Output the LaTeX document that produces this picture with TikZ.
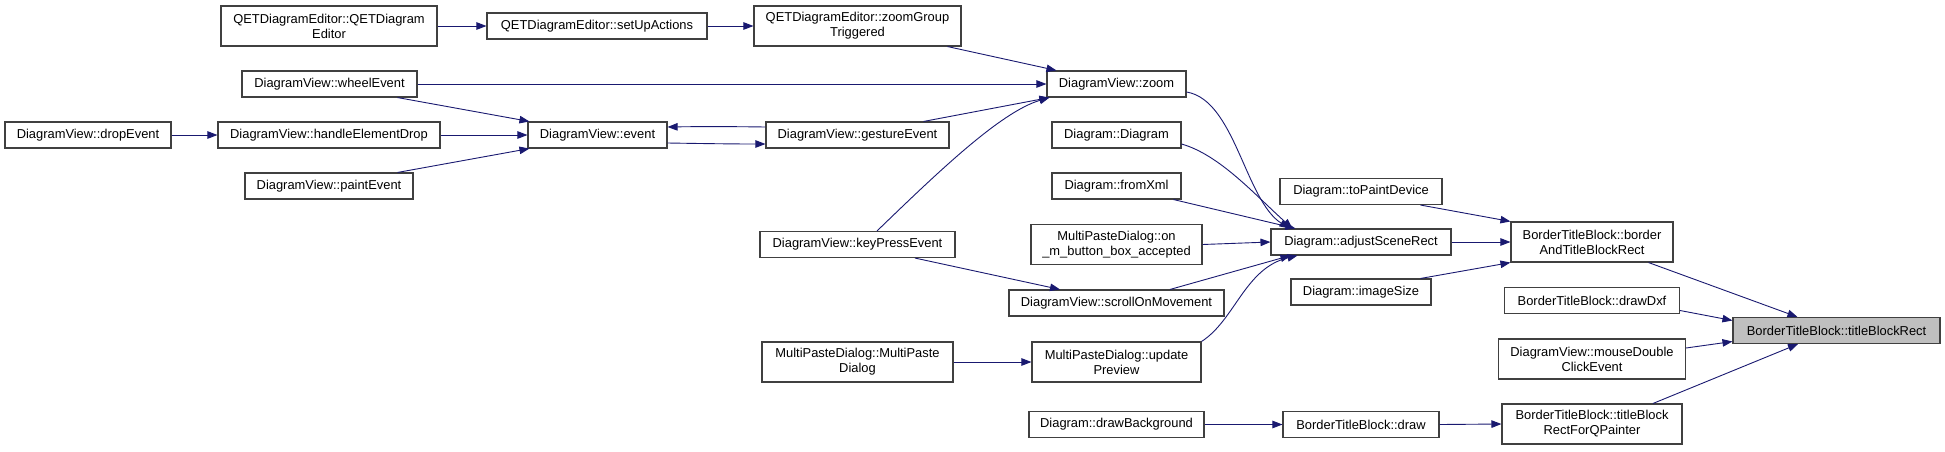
\documentclass[tikz,border=0pt]{standalone}
\usepackage{fontspec}
\setmainfont{Liberation Sans}
\usetikzlibrary{arrows.meta}
\definecolor{edgeblue}{HTML}{191970}
\definecolor{boxline}{HTML}{404040}
\definecolor{targetfill}{HTML}{BFBFBF}
\begin{document}
\begin{tikzpicture}[x=1pt,y=-1pt,
  fn/.style={draw=boxline,line width=1.1pt,fill=white,inner sep=0pt,align=center,
    font=\fontsize{12.9}{15}\selectfont,minimum height=26pt},
  fn2/.style={fn,minimum height=40pt},
  target/.style={fn,fill=targetfill},
  call/.style={draw=edgeblue,line width=0.9pt,-{Triangle[length=10pt,width=7.5pt]}}]
\useasboundingbox (0,0) rectangle (1945,451);
% column 1
\node[fn] (drop) at (88,135) [minimum width=166pt] {DiagramView::dropEvent};
% column 2
\node[fn2] (qctor) at (329,26) [minimum width=216pt] {QETDiagramEditor::QETDiagram\\Editor};
\node[fn] (wheel) at (329.5,84) [minimum width=175pt] {DiagramView::wheelEvent};
\node[fn] (hed) at (329,135) [minimum width=222pt] {DiagramView::handleElementDrop};
\node[fn] (paint) at (329,186) [minimum width=168pt] {DiagramView::paintEvent};
% column 3
\node[fn] (setup) at (597,26) [minimum width=220pt] {QETDiagramEditor::setUpActions};
\node[fn] (event) at (597.5,135) [minimum width=139pt] {DiagramView::event};
% column 4
\node[fn2] (zgt) at (857.5,26) [minimum width=207pt] {QETDiagramEditor::zoomGroup\\Triggered};
\node[fn] (gesture) at (857.5,135) [minimum width=183pt] {DiagramView::gestureEvent};
\node[fn] (key) at (857.5,244.5) [minimum width=195pt] {DiagramView::keyPressEvent};
\node[fn2] (mpdctor) at (857.5,362) [minimum width=191pt] {MultiPasteDialog::MultiPaste\\Dialog};
% column 5
\node[fn] (zoom) at (1116.5,84) [minimum width=139pt] {DiagramView::zoom};
\node[fn] (diag) at (1116.5,135) [minimum width=129pt] {Diagram::Diagram};
\node[fn] (fromxml) at (1116.5,186) [minimum width=129pt] {Diagram::fromXml};
\node[fn2] (onm) at (1116.5,244.5) [minimum width=171pt] {MultiPasteDialog::on\\\_m\_button\_box\_accepted};
\node[fn] (scroll) at (1116.5,303) [minimum width=215pt] {DiagramView::scrollOnMovement};
\node[fn2] (upd) at (1116.5,362) [minimum width=169pt] {MultiPasteDialog::update\\Preview};
\node[fn] (drawbg) at (1116.5,424.5) [minimum width=175pt] {Diagram::drawBackground};
% column 6
\node[fn] (topaint) at (1361,191.5) [minimum width=162pt] {Diagram::toPaintDevice};
\node[fn] (adjust) at (1361,242) [minimum width=180pt] {Diagram::adjustSceneRect};
\node[fn] (imgsize) at (1361,292) [minimum width=140pt] {Diagram::imageSize};
\node[fn] (drawn) at (1361,424.5) [minimum width=156pt] {BorderTitleBlock::draw};
% column 7
\node[fn2] (batbr) at (1592,242) [minimum width=162pt] {BorderTitleBlock::border\\AndTitleBlockRect};
\node[fn] (dxf) at (1592,300.5) [minimum width=175pt] {BorderTitleBlock::drawDxf};
\node[fn2] (mdc) at (1592,359) [minimum width=187pt] {DiagramView::mouseDouble\\ClickEvent};
\node[fn2] (tbrqp) at (1592,424) [minimum width=180pt] {BorderTitleBlock::titleBlock\\RectForQPainter};
% target
\node[target] (tbr) at (1836.5,330.5) [minimum width=207pt] {BorderTitleBlock::titleBlockRect};

% edges
\draw[call] (qctor.east) -- (setup.west);
\draw[call] (setup.east) -- (zgt.west);
\draw[call] ([xshift=-14pt]zgt.south east) -- ([xshift=10pt]zoom.north west);
\draw[call] (wheel.east) -- (zoom.west);
\draw[call] ([xshift=-20pt]wheel.south east) -- ([xshift=2pt]event.north west);
\draw[call] (drop.east) -- (hed.west);
\draw[call] (hed.east) -- (event.west);
\draw[call] ([xshift=-16pt]paint.north east) -- ([xshift=2pt]event.south west);
\draw[call] ([yshift=-8pt]event.east) .. controls (700,143.5) and (730,144) .. ([yshift=-9pt]gesture.west);
\draw[call] ([yshift=8pt]gesture.west) .. controls (730,126.5) and (700,126.5) .. ([yshift=8pt]event.east);
\draw[call] ([xshift=-26pt]gesture.north east) -- ([xshift=3pt]zoom.south west);
\draw[call] ([xshift=19.5pt]key.north) .. controls (935,175) and (1000,112) .. ([xshift=3pt]zoom.south west);
\draw[call] ([xshift=57.5pt]key.south) -- ([xshift=-56.5pt]scroll.north);
\draw[call] ([yshift=-8pt]zoom.east) .. controls (1235,100) and (1245,200) .. ([xshift=19pt]adjust.north west);
\draw[call] ([yshift=-9pt]diag.east) .. controls (1220,155) and (1255,195) .. ([xshift=22pt]adjust.north west);
\draw[call] ([xshift=-8pt]fromxml.south east) -- ([xshift=25pt]adjust.north west);
\draw[call] (onm.east) -- (adjust.west);
\draw[call] ([xshift=53.5pt]scroll.north) -- ([xshift=20pt]adjust.south west);
\draw[call] (upd.north east) .. controls (1235,320) and (1245,268) .. ([xshift=27pt]adjust.south west);
\draw[call] (mpdctor.east) -- (upd.west);
\draw[call] (drawbg.east) -- (drawn.west);
\draw[call] (drawn.east) -- (tbrqp.west);
\draw[call] ([xshift=-22pt]topaint.south east) -- (batbr.north west);
\draw[call] (adjust.east) -- (batbr.west);
\draw[call] ([xshift=-11pt]imgsize.north east) -- (batbr.south west);
\draw[call] ([xshift=-25pt]batbr.south east) -- ([xshift=65pt]tbr.north west);
\draw[call] ([yshift=-10pt]dxf.east) -- ([yshift=10pt]tbr.west);
\draw[call] ([yshift=11pt]mdc.east) -- ([yshift=-11pt]tbr.west);
\draw[call] ([xshift=61pt]tbrqp.north) -- ([xshift=-38.5pt]tbr.south);
\end{tikzpicture}
\end{document}
